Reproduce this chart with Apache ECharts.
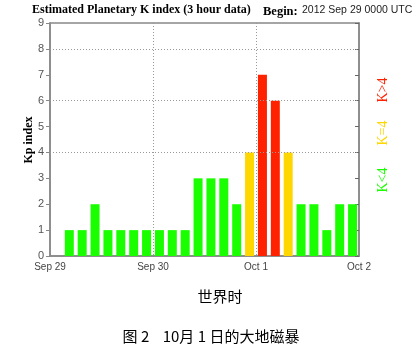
<!DOCTYPE html>
<html>
<head>
<meta charset="utf-8">
<script src="https://cdn.jsdelivr.net/npm/echarts@6/dist/echarts.min.js"></script>
<style>
  html, body { margin: 0; padding: 0; background: #fff; }
  #main { width: 420px; height: 353px; }
</style>
</head>
<body>
<div id="main"></div>
<script>
// Kp per 3-hour slot, 2012 Sep 29 0000 UTC .. Oct 2 0000 UTC
let kpValues = [0, 1, 1, 2, 1, 1, 1, 1,
                1, 1, 1, 3, 3, 3, 2, 4,
                7, 6, 4, 2, 2, 1, 2, 2];
let dayLabels = ['Sep 29', 'Sep 30', 'Oct 1', 'Oct 2'];
let gridLevels = [4, 6, 8];

let chartDom = document.getElementById('main');
let myChart = echarts.init(chartDom);

function barColor(v) {
    if (v > 4) return '#ff2200';
    if (v === 4) return '#ffd700';
    return '#1aff00';
}

let barData = kpValues.map(function (v, i) {
    return { value: [i + 0.5, v], itemStyle: { color: barColor(v) } };
});

let option = {
    animation: false,
    grid: { left: 50, right: 61, top: 23, bottom: 97, show: true, borderColor: '#888', borderWidth: 1.5 },
    xAxis: [
        {
            type: 'value',
            min: 0,
            max: 24,
            interval: 8,
            axisLine: { show: true, lineStyle: { color: '#888', width: 1.5 } },
            axisTick: { show: false },
            axisLabel: {
                color: '#444',
                fontSize: 10,
                fontFamily: 'Liberation Sans',
                margin: 6,
                formatter: function (v) { return dayLabels[v / 8]; }
            },
            splitLine: { show: true, lineStyle: { color: '#999', type: [1, 2] } }
        }
    ],
    yAxis: [
        {
            type: 'value',
            min: 0,
            max: 9,
            interval: 1,
            axisLine: { show: true, lineStyle: { color: '#888', width: 1.5 } },
            axisTick: { show: true, length: 4, lineStyle: { color: '#888' } },
            axisLabel: { color: '#555', fontSize: 11, fontFamily: 'Liberation Sans', margin: 6 },
            splitLine: { show: false }
        },
        {
            type: 'value',
            min: 0,
            max: 9,
            interval: 1,
            position: 'right',
            axisLine: { show: true, lineStyle: { color: '#888', width: 1.5 } },
            axisTick: { show: true, inside: true, length: 4, lineStyle: { color: '#666' } },
            axisLabel: { show: false },
            splitLine: { show: false }
        }
    ],
    series: [
        {
            type: 'bar',
            xAxisIndex: 0,
            yAxisIndex: 0,
            barWidth: 9,
            data: barData,
            markLine: {
                silent: true,
                symbol: 'none',
                label: { show: false },
                lineStyle: { color: '#999', type: [1, 2], width: 1 },
                data: gridLevels.map(function (v) { return { yAxis: v }; })
            }
        }
    ],
    graphic: [
        { type: 'text', left: 32, top: 4, style: { text: 'Estimated Planetary K index (3 hour data)',
            font: 'bold 12px "Liberation Serif"', fill: '#000' } },
        { type: 'text', left: 263, top: 5, style: { text: 'Begin:',
            font: 'bold 12.5px "Liberation Serif"', fill: '#000' } },
        { type: 'text', left: 302, top: 5, style: { text: '2012 Sep 29 0000 UTC',
            font: '10.5px "Liberation Sans"', fill: '#222' } },
        { type: 'text', x: 29, y: 140, rotation: Math.PI / 2, style: { text: 'Kp index',
            font: 'bold 12px "Liberation Serif"', fill: '#000', align: 'center', verticalAlign: 'middle' } },
        { type: 'text', x: 383, y: 90, rotation: Math.PI / 2, style: { text: 'K>4',
            font: '14px "Liberation Serif"', fill: '#ff2200', align: 'center', verticalAlign: 'middle' } },
        { type: 'text', x: 383, y: 133, rotation: Math.PI / 2, style: { text: 'K=4',
            font: '14px "Liberation Serif"', fill: '#ffd700', align: 'center', verticalAlign: 'middle' } },
        { type: 'text', x: 383, y: 180, rotation: Math.PI / 2, style: { text: 'K<4',
            font: '14px "Liberation Serif"', fill: '#1aff00', align: 'center', verticalAlign: 'middle' } },
        { type: 'text', x: 220, y: 296, style: { text: '世界时',
            font: '15px "Noto Sans CJK SC"', fill: '#000', align: 'center', verticalAlign: 'middle' } },
        { type: 'text', x: 211, y: 336, style: { text: '图 2    10月 1 日的大地磁暴',
            font: '15px "Noto Sans CJK SC"', fill: '#000', align: 'center', verticalAlign: 'middle' } }
    ]
};

myChart.setOption(option);
window.addEventListener('resize', () => {
    myChart.resize();
});
</script>
</body>
</html>
